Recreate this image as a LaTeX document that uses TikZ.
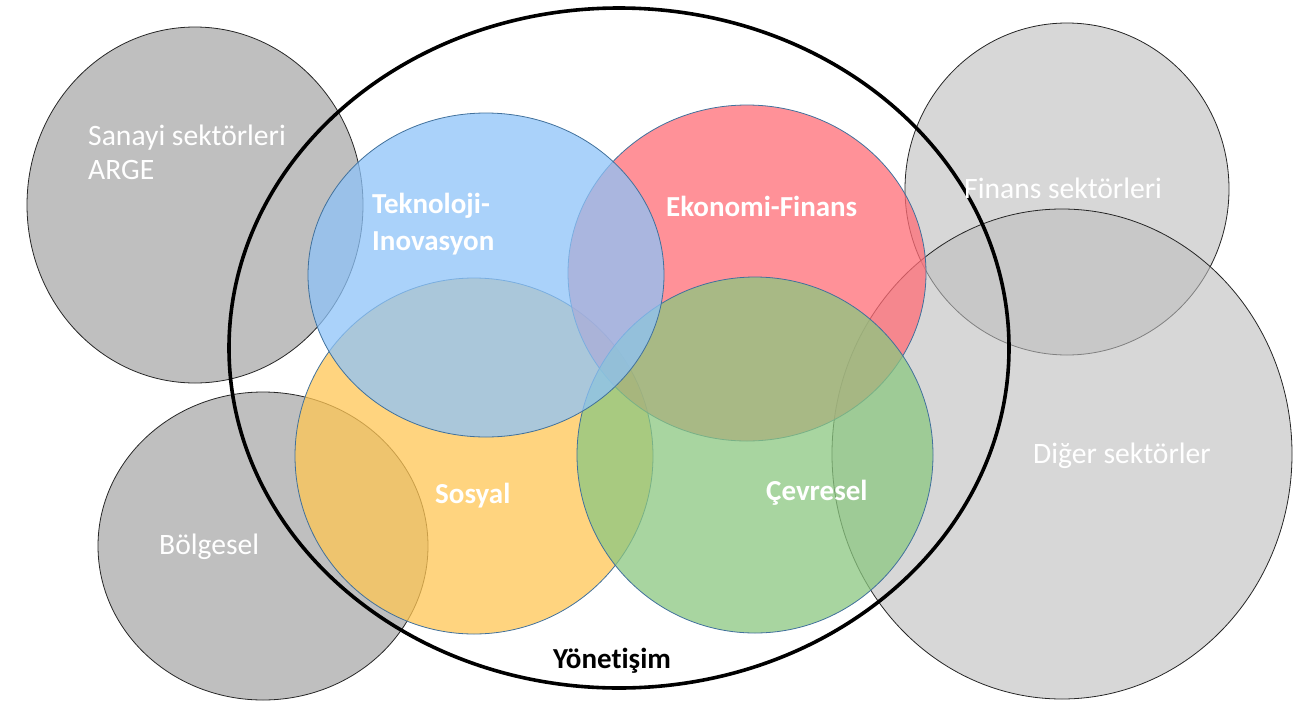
\documentclass[tikz,border=0pt]{standalone}
\usepackage{fontspec}
\setmainfont{Carlito}[Ligatures=NoCommon]
\usepackage{xcolor}
\definecolor{koyugri}{HTML}{BFBFBF}
\definecolor{acikgri}{HTML}{BDBDBD}
\definecolor{mavi}{RGB}{142,195,248}
\definecolor{kirmizi}{RGB}{255,108,118}
\definecolor{turuncu}{RGB}{255,198,84}
\definecolor{yesil}{RGB}{139,199,128}
\definecolor{kenar}{HTML}{41719C}

\begin{document}
\begin{tikzpicture}[x=1pt,y=-1pt,
    disdaire/.style={draw=black!85,line width=0.8pt},
    icdaire/.style={draw=kenar,line width=0.8pt,fill opacity=0.75},
    etiket/.style={inner sep=0pt,anchor=base west,text=white,
      font=\fontsize{29.6}{35}\selectfont},
    kalin/.style={etiket,font=\bfseries\fontsize{29}{35}\selectfont}
  ]
  \useasboundingbox (0,0) rectangle (1307,702);

  % dis sektorler
  \fill[koyugri] (195,205) ellipse [x radius=168,y radius=178];
  \draw[disdaire] (195,205) ellipse [x radius=168,y radius=178];
  \fill[koyugri] (263,546) ellipse [x radius=165,y radius=154];
  \draw[disdaire] (263,546) ellipse [x radius=165,y radius=154];
  \fill[acikgri,fill opacity=0.6] (1067,189) ellipse [x radius=162,y radius=166];
  \draw[disdaire] (1067,189) ellipse [x radius=162,y radius=166];
  \fill[acikgri,fill opacity=0.6] (1062,454) ellipse [x radius=230,y radius=245];
  \draw[disdaire] (1062,454) ellipse [x radius=230,y radius=245];

  % surdurulebilirlik boyutlari
  \filldraw[icdaire,fill=turuncu] (474,456) ellipse [x radius=179,y radius=178];
  \filldraw[icdaire,fill=kirmizi] (747,273) ellipse [x radius=179,y radius=168];
  \filldraw[icdaire,fill=yesil] (755,455) ellipse [x radius=178,y radius=178];
  \filldraw[icdaire,fill=mavi] (486,275) ellipse [x radius=178,y radius=162];

  % yonetisim
  \draw[line width=3.6pt] (619,348) ellipse [x radius=390,y radius=340];

  \node[etiket] (sanayi) at (88,145) {Sanayi sektörleri};
  \node[etiket] (arge) at (88,179) {ARGE};
  \node[etiket] (bolgesel) at (159,554) {Bölgesel};
  \node[etiket] (finans) at (964,198) {Finans sektörleri};
  \node[etiket] (diger) at (1033,463) {Diğer sektörler};
  \node[kalin] (teknoloji) at (372,213) {Teknoloji-};
  \node[kalin] (inovasyon) at (372,250) {Inovasyon};
  \node[kalin] (ekonomi) at (666,216) {Ekonomi-Finans};
  \node[kalin] (sosyal) at (435,503) {Sosyal};
  \node[kalin] (cevresel) at (766,500) {Çevresel};
  \node[kalin,text=black] (yonetisim) at (553,668) {Yönetişim};
\end{tikzpicture}
\end{document}
